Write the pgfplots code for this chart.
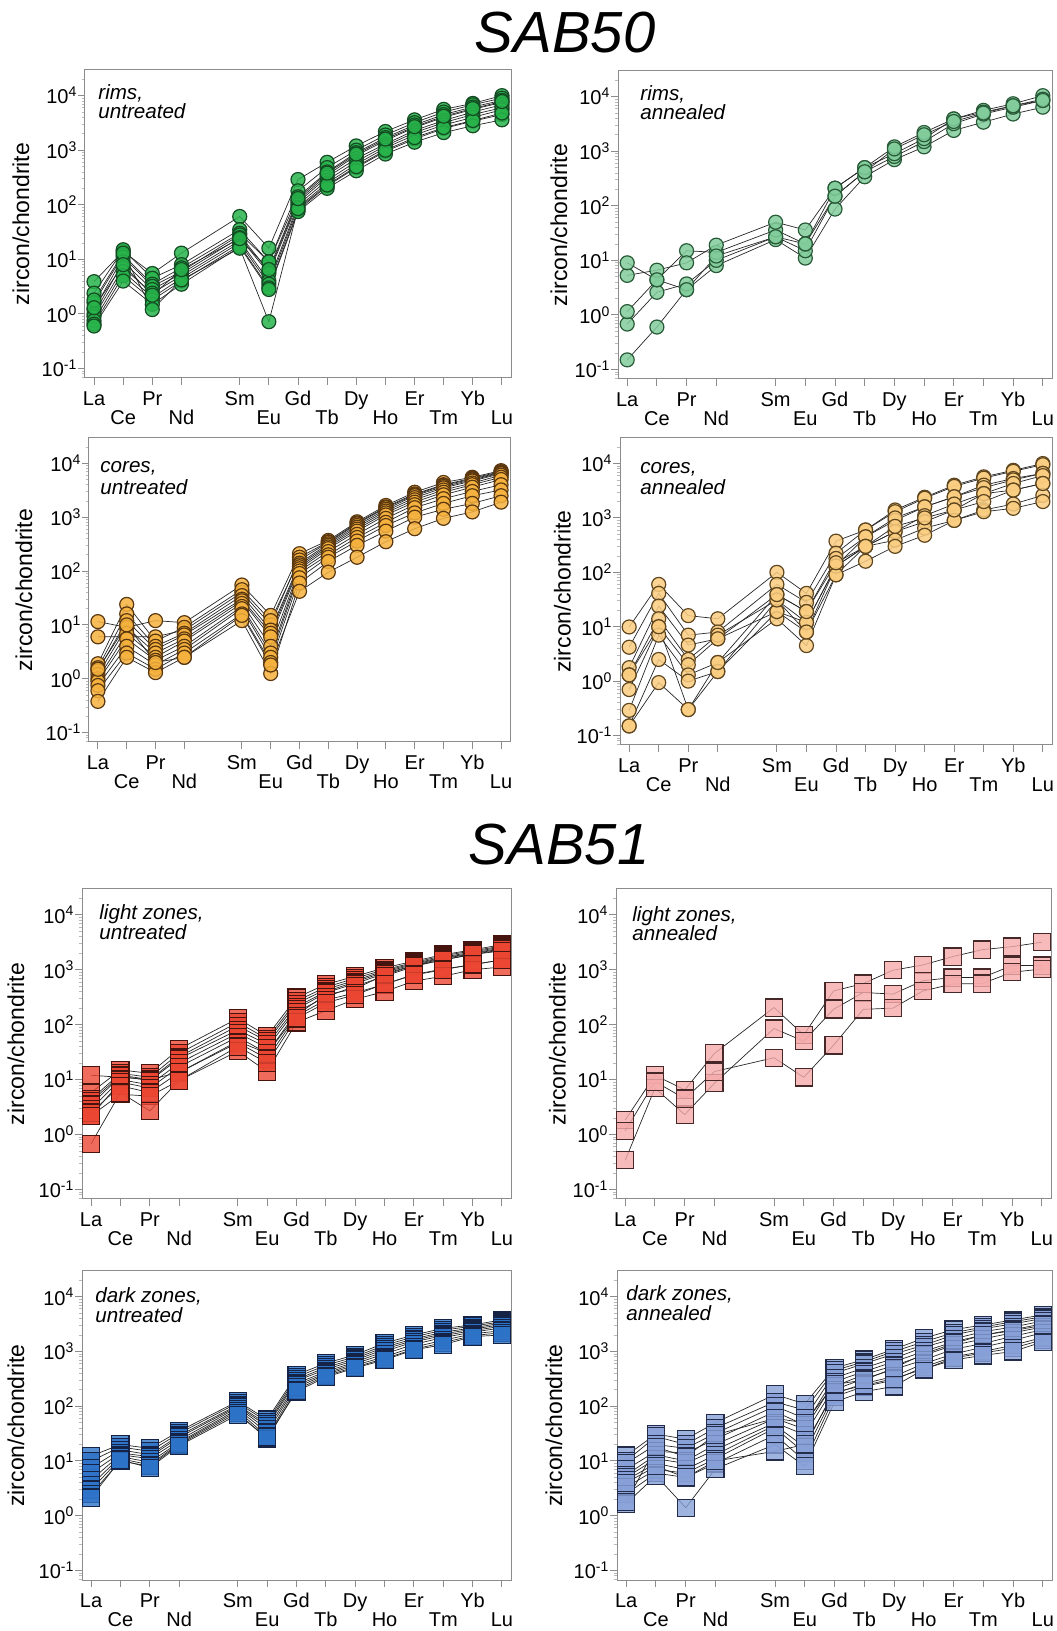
\documentclass[border=0pt]{standalone}
\usepackage{fontspec}
\setmainfont{Liberation Sans}
\usepackage{pgfplots}
\usepackage{pgfplotstable}
\pgfplotsset{compat=1.18}

% marker colours
\definecolor{framegray}{RGB}{140,140,140}
\definecolor{gAfill}{RGB}{40,180,75}   \definecolor{gAdraw}{RGB}{20,75,35}
\definecolor{gBfill}{RGB}{130,205,155} \definecolor{gBdraw}{RGB}{40,90,55}
\definecolor{oAfill}{RGB}{246,178,62}  \definecolor{oAdraw}{RGB}{90,55,15}
\definecolor{oBfill}{RGB}{250,205,128} \definecolor{oBdraw}{RGB}{95,70,30}
\definecolor{rAfill}{RGB}{235,70,50}   \definecolor{rAdraw}{RGB}{70,20,15}
\definecolor{rBfill}{RGB}{245,170,170} \definecolor{rBdraw}{RGB}{70,40,40}
\definecolor{bAfill}{RGB}{45,115,200}  \definecolor{bAdraw}{RGB}{20,35,70}
\definecolor{bBfill}{RGB}{135,160,215} \definecolor{bBdraw}{RGB}{35,45,75}

\newcommand{\ticksize}{\fontsize{10}{12}\selectfont}
\newcommand{\labsize}{\fontsize{11.5}{13}\selectfont}
\newcommand{\plabfont}{\fontsize{10.3}{12}\selectfont\itshape}

% chondrite-normalised REE patterns, one row per spot analysis
\pgfplotstableread{
id  La Ce Pr Nd Sm Eu Gd Tb Dy Ho Er Tm Yb Lu
x   0 1 2 3 5 6 7 8 9 10 11 12 13 14
s1  3.9 14 5.5 13 61 16 290 600 1200 2200 3600 5600 7200 10000
s2  2.4 15 4.5 8 35 9 180 480 1000 1900 3200 5000 6800 9000
s3  1.6 12 3.5 7 30 9 140 400 900 1700 2900 4500 6200 8200
s4  1.2 11 3.2 6 28 6 120 350 800 1500 2600 4000 5600 7500
s5  1.0 9 2.8 5.5 25 5.5 110 320 700 1300 2300 3500 5000 6800
s6  0.9 7 2.4 5 22 4 100 280 620 1200 2100 3200 4500 6000
s7  0.75 6 2.0 4.5 20 3.5 90 250 550 1100 1900 2900 4000 5500
s8  0.65 5 1.8 4 18 3 80 220 480 950 1600 2500 3400 4500
s9  0.6 4 1.5 3.5 17 2.8 75 200 420 850 1400 2100 2800 3600
s10 1.8 13 1.2 4.2 16 0.72 85 230 500 1000 1700 2600 3500 4800
s11 1.3 8 2.2 6.5 24 6.5 130 380 850 1600 2700 4200 5800 7800
}\rawA
\pgfplotstableread{
id  La Ce Pr Nd Sm Eu Gd Tb Dy Ho Er Tm Yb Lu
x   0 1 2 3 5 6 7 8 9 10 11 12 13 14
s1  0.15 0.6 2.9 8 24 11 87 340 700 1200 2400 3400 4800 6400
s2  0.68 2.6 3.7 10 27 15 150 420 800 1500 3200 4800 6400 8500
s3  1.15 4.4 15 14 36 20 210 500 900 1700 3900 5600 7400 10400
s4  5.3 6.6 9 19 50 36 210 500 1200 2200 3900 5200 6800 9000
s5  9 4.4 2.9 12 27 20 150 420 1100 2000 3500 5000 6800 8500
}\rawB
\pgfplotstableread{
id  La Ce Pr Nd Sm Eu Gd Tb Dy Ho Er Tm Yb Lu
x   0 1 2 3 5 6 7 8 9 10 11 12 13 14
s1  11.5 9 12 11 55 15 210 370 820 1650 2900 4400 5500 7300
s2  6 6 6 8 40 10 180 350 780 1550 2700 4000 5300 7000
s3  1.9 24 5 9 45 12 160 340 750 1500 2600 3900 5100 6800
s4  1.6 16 4 7 35 8 140 320 700 1400 2500 3700 4900 6600
s5  1.4 12 3.5 6.5 30 7 130 300 650 1300 2300 3500 4700 6400
s6  1.2 9 3 5.5 28 6 120 280 600 1200 2100 3200 4300 6000
s7  1.0 7 2.5 5 25 4 110 260 550 1100 1900 2900 4000 5500
s8  0.9 5.5 2.2 4 22 3 100 230 480 950 1700 2600 3600 5000
s9  0.75 4 1.8 3.5 20 2.5 90 200 420 800 1500 2200 3000 4000
s10 0.6 3 1.5 3 16 2 75 180 360 700 1200 1800 2500 3200
s11 0.38 2.5 1.3 2.5 12 1.25 60 150 300 550 1000 1400 1800 2500
s12 1.5 10 2 2.5 15 1.8 42 95 180 350 610 950 1250 1900
}\rawC
\pgfplotstableread{
id  La Ce Pr Nd Sm Eu Gd Tb Dy Ho Er Tm Yb Lu
x   0 1 2 3 5 6 7 8 9 10 11 12 13 14
s1  9.9 60 16 14 100 41 375 600 1400 2400 4000 5700 7500 10000
s2  4.2 41 7 8 60 28 225 600 1300 2300 3800 5400 7200 9500
s3  1.77 24 4.6 6 39 19 180 450 900 1600 2450 4000 5300 6600
s4  1.3 14 2.5 7 31 12 130 450 1000 1600 2450 3600 5000 6600
s5  0.7 10 2 6 19 8 130 300 560 1100 1800 2800 4300 6000
s6  0.29 7 1.3 2.2 14 4.5 90 300 560 850 1400 2800 3250 4300
s7  0.15 2.5 1 1.5 19 12 130 300 390 650 900 1400 1800 2600
s8  0.15 0.94 0.3 1.5 31 8 90 160 300 480 900 1300 1500 2000
s9  1.3 10 0.3 2.2 39 19 150 300 700 1000 1400 2000 3250 4300
}\rawD
\pgfplotstableread{
id  La Ce Pr Nd Sm Eu Gd Tb Dy Ho Er Tm Yb Lu
x   0 1 2 3 5 6 7 8 9 10 11 12 13 14
s1  12 11 10 13.5 50 30 150 350 450 800 1200 1500 1900 2300
s2  5.8 15 13 36 130 62 310 540 760 1080 1430 1880 2300 2860
s3  4.4 13 11 30 110 55 270 480 700 1000 1350 1800 2200 2700
s4  4.0 12 10 26 95 50 240 440 640 950 1300 1700 2100 2600
s5  3.5 11.5 9.6 24 80 44 210 400 600 900 1250 1650 2000 2500
s6  2.9 10 8 20 70 38 190 380 560 850 1200 1600 1950 2400
s7  2.2 9 7 17 60 30 170 320 500 760 1150 1520 1900 2200
s8  2.5 7.7 5.8 13.5 47 24 145 280 380 540 820 1030 1230 1520
s9  2.2 5.4 5 9.6 33 14 110 180 290 400 620 760 1000 1120
s10 0.68 5.8 2.7 9.6 40 20 130 250 350 550 800 1000 1250 1500
}\rawE
\pgfplotstableread{
id  La Ce Pr Nd Sm Eu Gd Tb Dy Ho Er Tm Yb Lu
x   0 1 2 3 5 6 7 8 9 10 11 12 13 14
s1  1.84 12 6.5 30 205 65 410 560 980 1220 1730 2320 2630 3170
s2  0.34 7 2.3 8.6 85 50 190 385 360 630 720 720 1190 1190
s3  1.17 9.2 4.5 14 25 11 42 190 200 410 550 560 900 1030
}\rawF
\pgfplotstableread{
id  La Ce Pr Nd Sm Eu Gd Tb Dy Ho Er Tm Yb Lu
x   0 1 2 3 5 6 7 8 9 10 11 12 13 14
s1  12.3 20 17 35 123 57 375 610 870 1420 2000 2650 3050 3770
s2  10 18 15 32 115 52 340 560 800 1300 1850 2450 2900 3500
s3  7.5 16 13 29 105 47 310 510 740 1200 1700 2250 2700 3300
s4  6 14 12 27 100 43 290 470 690 1100 1600 2100 2550 3100
s5  4.5 13 11 24 95 38 260 430 640 1000 1500 1950 2400 2900
s6  3.6 12 9.5 22 88 33 240 400 600 900 1350 1800 2250 2700
s7  3 11 8.5 21 82 28 220 380 560 800 1200 1600 2100 2400
s8  2.5 10 8 20 76 25 200 360 520 740 1100 1450 1950 2200
s9  2.15 10.5 7.5 19 70 27 186 340 500 700 1070 1330 1870 2000
}\rawG
\pgfplotstableread{
id  La Ce Pr Nd Sm Eu Gd Tb Dy Ho Er Tm Yb Lu
x   0 1 2 3 5 6 7 8 9 10 11 12 13 14
s1  12.5 31 25 50 164 110 500 710 1100 1750 2500 3050 3770 4660
s2  10 28 20 40 120 85 450 650 1000 1500 2200 2800 3500 4300
s3  9 20 17 32 100 60 400 600 900 1300 2000 2600 3200 4000
s4  7 15 14 25 80 45 330 500 750 1200 1700 2300 2800 3600
s5  5.5 13 10 20 60 38 280 430 650 1000 1500 2000 2500 3200
s6  5 11 9 16 50 30 230 380 550 850 1300 1700 2200 2800
s7  4.5 9 7 13 45 18 200 320 470 700 1100 1400 1900 2500
s8  3.3 7 6 11 40 14 170 260 350 600 900 1200 1600 2200
s9  2.5 6 5 9 30 10 150 230 300 520 800 1000 1300 1800
s10 1.67 5.4 1.4 7.2 20 8 120 185 230 470 760 940 1150 1640
s11 4 8 5 10 15 20 180 240 320 480 700 850 1000 1500
s12 1.8 18 12 30 60 50 250 300 500 900 1400 2000 2400 3000
}\rawH
\pgfplotstabletranspose[colnames from=id]{\dataA}{\rawA}
\pgfplotstabletranspose[colnames from=id]{\dataB}{\rawB}
\pgfplotstabletranspose[colnames from=id]{\dataC}{\rawC}
\pgfplotstabletranspose[colnames from=id]{\dataD}{\rawD}
\pgfplotstabletranspose[colnames from=id]{\dataE}{\rawE}
\pgfplotstabletranspose[colnames from=id]{\dataF}{\rawF}
\pgfplotstabletranspose[colnames from=id]{\dataG}{\rawG}
\pgfplotstabletranspose[colnames from=id]{\dataH}{\rawH}

\pgfplotsset{
  every axis/.append style={
    scale only axis, anchor=south west,
    xmin=-0.31, xmax=14.31, ymin=0.067, ymax=29500,
    axis line style={draw=framegray, line width=0.5pt},
    every tick/.append style={draw=framegray, line width=0.5pt},
    every minor tick/.append style={draw=gray!55, line width=0.4pt},
    major tick length=3.3pt, minor tick length=1.7pt,
    tick align=outside, xtick pos=bottom, ytick pos=left,
    xtick={0,1,2,3,5,6,7,8,9,10,11,12,13,14},
    xticklabels={},
    ytick={0.1,1,10,100,1000,10000},
    yticklabels={10\textsuperscript{-1},10\textsuperscript{0},10\textsuperscript{1},10\textsuperscript{2},10\textsuperscript{3},10\textsuperscript{4}},
    minor ytick={0.07,0.08,0.09,0.2,0.3,0.4,0.5,0.6,0.7,0.8,0.9,2,3,4,5,6,7,8,9,20,30,40,50,60,70,80,90,200,300,400,500,600,700,800,900,2000,3000,4000,5000,6000,7000,8000,9000,20000},
    tick label style={font=\ticksize},
    yticklabel style={xshift=3pt},
    clip=false,
  },
  reeline/.style={no markers, draw=black!85, line width=0.35pt},
  circ/.style={only marks, mark=*, mark size=3.5pt,
    mark options={fill=#1fill, draw=#1draw, fill opacity=0.85, line width=0.6pt}},
  sqr/.style={only marks, mark=square*, mark size=4.3pt,
    mark options={fill=#1fill, draw=#1draw, fill opacity=0.8, line width=0.6pt}},
}

% all connecting lines first, then the markers on top
\newcommand{\drawset}[3]{%
  \pgfplotsinvokeforeach{1,...,#2}{\addplot[reeline] table[x=x,y=s##1]{#1};}%
  \pgfplotsinvokeforeach{1,...,#2}{\addplot[#3] table[x=x,y=s##1]{#1};}%
}
% element names in two staggered rows, and the y axis title
\newcommand{\reeframe}[1]{%
  \node[anchor=base, inner sep=0pt, font=\ticksize] at ([yshift=-13.6pt]axis cs:0,0.067) {La};
  \node[anchor=base, inner sep=0pt, font=\ticksize] at ([yshift=-23.2pt]axis cs:1,0.067) {Ce};
  \node[anchor=base, inner sep=0pt, font=\ticksize] at ([yshift=-13.6pt]axis cs:2,0.067) {Pr};
  \node[anchor=base, inner sep=0pt, font=\ticksize] at ([yshift=-23.2pt]axis cs:3,0.067) {Nd};
  \node[anchor=base, inner sep=0pt, font=\ticksize] at ([yshift=-13.6pt]axis cs:5,0.067) {Sm};
  \node[anchor=base, inner sep=0pt, font=\ticksize] at ([yshift=-23.2pt]axis cs:6,0.067) {Eu};
  \node[anchor=base, inner sep=0pt, font=\ticksize] at ([yshift=-13.6pt]axis cs:7,0.067) {Gd};
  \node[anchor=base, inner sep=0pt, font=\ticksize] at ([yshift=-23.2pt]axis cs:8,0.067) {Tb};
  \node[anchor=base, inner sep=0pt, font=\ticksize] at ([yshift=-13.6pt]axis cs:9,0.067) {Dy};
  \node[anchor=base, inner sep=0pt, font=\ticksize] at ([yshift=-23.2pt]axis cs:10,0.067) {Ho};
  \node[anchor=base, inner sep=0pt, font=\ticksize] at ([yshift=-13.6pt]axis cs:11,0.067) {Er};
  \node[anchor=base, inner sep=0pt, font=\ticksize] at ([yshift=-23.2pt]axis cs:12,0.067) {Tm};
  \node[anchor=base, inner sep=0pt, font=\ticksize] at ([yshift=-13.6pt]axis cs:13,0.067) {Yb};
  \node[anchor=base, inner sep=0pt, font=\ticksize] at ([yshift=-23.2pt]axis cs:14,0.067) {Lu};
  \node[rotate=90, anchor=center, inner sep=0pt, font=\labsize] at ([xshift=-#1]rel axis cs:0,0.5) {zircon/chondrite};
}
% two-line sample label in the upper left corner
\newcommand{\plab}[5]{%
  \node[anchor=base west, inner sep=0pt, font=\plabfont] at ([xshift=#1,yshift=-#2]rel axis cs:0,1) {#4};
  \node[anchor=base west, inner sep=0pt, font=\plabfont] at ([xshift=#1,yshift=-#3]rel axis cs:0,1) {#5};
}

\begin{document}
\begin{tikzpicture}
\useasboundingbox (0,0) rectangle (528pt,815.5pt);

\node[anchor=base, inner sep=0pt, font=\fontsize{29}{30}\selectfont\itshape] at (282.5pt,789pt) {SAB50};
\node[anchor=base, inner sep=0pt, font=\fontsize{29}{30}\selectfont\itshape] at (279.5pt,383pt) {SAB51};

% SAB50 rims
\begin{semilogyaxis}[at={(42.5pt,626.5pt)}, width=213pt, height=154pt]
  \drawset{\dataA}{11}{circ=gA}
  \reeframe{32pt}
  \plab{6.5pt}{15pt}{24.2pt}{rims,}{untreated}
\end{semilogyaxis}
\begin{semilogyaxis}[at={(309pt,626pt)}, width=217pt, height=154pt]
  \drawset{\dataB}{5}{circ=gB}
  \reeframe{29.5pt}
  \plab{11pt}{15pt}{24.2pt}{rims,}{annealed}
\end{semilogyaxis}

% SAB50 cores
\begin{semilogyaxis}[at={(44.5pt,444.5pt)}, width=210.5pt, height=152pt]
  \drawset{\dataC}{12}{circ=oA}
  \reeframe{32.5pt}
  \plab{5.5pt}{17.5pt}{28.3pt}{cores,}{untreated}
\end{semilogyaxis}
\begin{semilogyaxis}[at={(310pt,443pt)}, width=216pt, height=153.5pt]
  \drawset{\dataD}{9}{circ=oB}
  \reeframe{28.8pt}
  \plab{10pt}{18pt}{28.5pt}{cores,}{annealed}
\end{semilogyaxis}

% SAB51 light zones
\begin{semilogyaxis}[at={(41pt,216pt)}, width=214.5pt, height=155pt]
  \drawset{\dataE}{10}{sqr=rA}
  \reeframe{33pt}
  \plab{8.5pt}{15.5pt}{25.5pt}{light zones,}{untreated}
\end{semilogyaxis}
\begin{semilogyaxis}[at={(308pt,216pt)}, width=217.5pt, height=155pt]
  \drawset{\dataF}{3}{sqr=rB}
  \reeframe{29.3pt}
  \plab{8pt}{16.5pt}{26pt}{light zones,}{annealed}
\end{semilogyaxis}

% SAB51 dark zones
\begin{semilogyaxis}[at={(41pt,25.5pt)}, width=214.5pt, height=154.5pt]
  \drawset{\dataG}{9}{sqr=bA}
  \reeframe{33pt}
  \plab{6.5pt}{16pt}{25.8pt}{dark zones,}{untreated}
\end{semilogyaxis}
\begin{semilogyaxis}[at={(308.5pt,25.5pt)}, width=217.5pt, height=154.5pt]
  \drawset{\dataH}{12}{sqr=bB}
  \reeframe{31.5pt}
  \plab{4.5pt}{15pt}{24.7pt}{dark zones,}{annealed}
\end{semilogyaxis}
\end{tikzpicture}
\end{document}
